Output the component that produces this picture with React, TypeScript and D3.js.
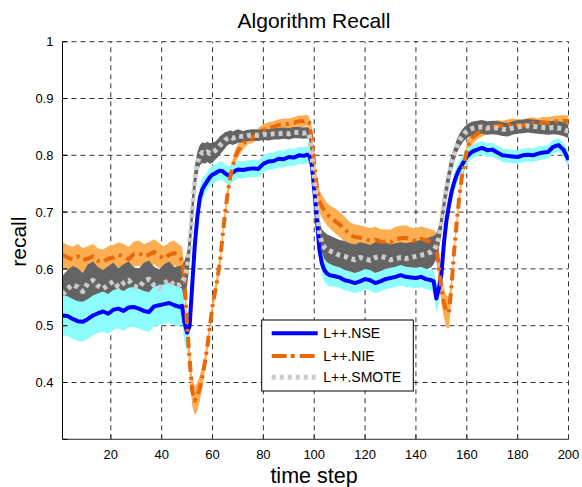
import React from "react";
import * as d3 from "d3";

const W = 582;
const H = 487;

const steps = [
  1, 3, 5, 7, 9, 11, 13, 15, 17, 19, 21, 23, 25, 27, 29, 31, 33, 35, 37, 39, 41, 43, 45, 47,
  48, 49, 50, 51, 52, 53, 54, 55, 56, 57, 58, 59, 60, 61, 62, 63, 64, 65, 66, 67, 68, 69, 70,
  72, 74, 76, 78, 80, 82, 84, 86, 88, 90, 92, 94, 96,
  97, 98, 99, 100, 101, 102, 103, 104, 105, 106,
  108, 110, 112, 114, 116, 118, 120, 122, 124, 126, 128, 130, 132, 134, 136, 138, 140, 142, 144, 146,
  147, 148, 149, 150, 151, 152, 153, 154, 155, 156, 157, 158, 159, 160, 161, 162,
  164, 166, 168, 170, 172, 174, 176, 178, 180, 182, 184, 186, 188, 190, 192, 194, 196, 198, 200,
];

const nseMean = [
  0.518, 0.517, 0.512, 0.508, 0.507, 0.512, 0.518, 0.522, 0.525, 0.521, 0.528, 0.530, 0.526, 0.532, 0.533, 0.530, 0.526, 0.524, 0.534, 0.536, 0.538, 0.540, 0.536, 0.533,
  0.535, 0.505, 0.488, 0.500, 0.570, 0.640, 0.690, 0.725, 0.740, 0.748, 0.755, 0.762, 0.766, 0.768, 0.771, 0.773, 0.772, 0.768, 0.765, 0.766, 0.770, 0.773, 0.775,
  0.774, 0.776, 0.777, 0.776, 0.785, 0.789, 0.790, 0.794, 0.793, 0.797, 0.796, 0.800, 0.799,
  0.801, 0.800, 0.785, 0.740, 0.690, 0.635, 0.610, 0.598, 0.592, 0.589,
  0.587, 0.585, 0.580, 0.578, 0.575, 0.578, 0.582, 0.580, 0.575, 0.578, 0.582, 0.584, 0.586, 0.589, 0.586, 0.585, 0.584, 0.586, 0.582, 0.580,
  0.578, 0.548, 0.565, 0.590, 0.645, 0.685, 0.712, 0.735, 0.752, 0.765, 0.775, 0.782, 0.790, 0.797, 0.802, 0.806,
  0.810, 0.813, 0.809, 0.810, 0.805, 0.800, 0.799, 0.798, 0.797, 0.800, 0.801, 0.800, 0.803, 0.805, 0.806, 0.815, 0.818, 0.810, 0.792,
];

const nseBand = [
  0.035, 0.035, 0.035, 0.035, 0.035, 0.035, 0.035, 0.035, 0.035, 0.035, 0.035, 0.035, 0.035, 0.035, 0.035, 0.035, 0.035, 0.035, 0.035, 0.035, 0.035, 0.035, 0.035, 0.035,
  0.030, 0.035, 0.035, 0.030, 0.020, 0.020, 0.020, 0.020, 0.020, 0.016, 0.016, 0.016, 0.016, 0.016, 0.016, 0.016, 0.016, 0.016, 0.016, 0.016, 0.016, 0.016, 0.016,
  0.015, 0.015, 0.015, 0.015, 0.015, 0.015, 0.015, 0.015, 0.015, 0.015, 0.015, 0.015, 0.015,
  0.015, 0.015, 0.020, 0.020, 0.020, 0.020, 0.020, 0.020, 0.020, 0.020,
  0.018, 0.018, 0.018, 0.018, 0.018, 0.018, 0.018, 0.018, 0.018, 0.018, 0.018, 0.018, 0.018, 0.018, 0.018, 0.018, 0.018, 0.018, 0.018, 0.018,
  0.020, 0.025, 0.025, 0.025, 0.015, 0.015, 0.015, 0.015, 0.015, 0.015, 0.015, 0.015, 0.015, 0.015, 0.012, 0.012,
  0.012, 0.012, 0.012, 0.012, 0.012, 0.012, 0.012, 0.012, 0.012, 0.012, 0.012, 0.012, 0.012, 0.012, 0.012, 0.012, 0.012, 0.012, 0.015,
];

const nieMean = [
  0.625, 0.620, 0.617, 0.622, 0.615, 0.618, 0.622, 0.614, 0.612, 0.618, 0.620, 0.625, 0.622, 0.617, 0.626, 0.628, 0.622, 0.625, 0.630, 0.623, 0.618, 0.625, 0.628, 0.620,
  0.615, 0.580, 0.500, 0.440, 0.385, 0.368, 0.375, 0.390, 0.410, 0.435, 0.465, 0.500, 0.535, 0.560, 0.585, 0.615, 0.660, 0.700, 0.735, 0.762, 0.782, 0.798, 0.808,
  0.820, 0.830, 0.832, 0.838, 0.845, 0.848, 0.850, 0.853, 0.855, 0.855, 0.857, 0.860, 0.860,
  0.862, 0.858, 0.830, 0.785, 0.745, 0.720, 0.710, 0.703, 0.697, 0.692,
  0.685, 0.678, 0.670, 0.660, 0.656, 0.655, 0.652, 0.650, 0.652, 0.648, 0.648, 0.647, 0.652, 0.654, 0.655, 0.651, 0.649, 0.653, 0.650, 0.648,
  0.646, 0.640, 0.605, 0.565, 0.540, 0.525, 0.523, 0.570, 0.630, 0.680, 0.725, 0.760, 0.785, 0.808, 0.822, 0.830,
  0.838, 0.843, 0.847, 0.850, 0.852, 0.851, 0.853, 0.855, 0.854, 0.852, 0.856, 0.857, 0.855, 0.858, 0.857, 0.859, 0.860, 0.861, 0.860,
];

const nieBand = [
  0.022, 0.022, 0.022, 0.022, 0.022, 0.022, 0.022, 0.022, 0.022, 0.022, 0.022, 0.022, 0.022, 0.022, 0.022, 0.022, 0.022, 0.022, 0.022, 0.022, 0.022, 0.022, 0.022, 0.022,
  0.025, 0.025, 0.025, 0.025, 0.025, 0.025, 0.025, 0.022, 0.020, 0.014, 0.012, 0.012, 0.012, 0.012, 0.012, 0.012, 0.012, 0.012, 0.012, 0.012, 0.012, 0.012, 0.012,
  0.010, 0.010, 0.010, 0.010, 0.010, 0.010, 0.010, 0.010, 0.010, 0.010, 0.010, 0.010, 0.010,
  0.010, 0.010, 0.020, 0.020, 0.020, 0.020, 0.020, 0.020, 0.020, 0.020,
  0.022, 0.022, 0.022, 0.022, 0.022, 0.022, 0.022, 0.022, 0.022, 0.022, 0.022, 0.022, 0.022, 0.022, 0.022, 0.022, 0.022, 0.022, 0.022, 0.022,
  0.022, 0.025, 0.025, 0.025, 0.025, 0.028, 0.028, 0.015, 0.012, 0.012, 0.012, 0.012, 0.012, 0.012, 0.012, 0.012,
  0.010, 0.010, 0.010, 0.010, 0.010, 0.010, 0.010, 0.010, 0.010, 0.010, 0.010, 0.010, 0.010, 0.010, 0.010, 0.010, 0.010, 0.010, 0.010,
];

const smoteMean = [
  0.555, 0.565, 0.572, 0.568, 0.560, 0.575, 0.580, 0.570, 0.565, 0.572, 0.578, 0.568, 0.575, 0.580, 0.570, 0.567, 0.578, 0.582, 0.571, 0.566, 0.575, 0.580, 0.570, 0.572,
  0.575, 0.585, 0.600, 0.640, 0.700, 0.755, 0.785, 0.800, 0.805, 0.803, 0.806, 0.803, 0.805, 0.808, 0.812, 0.818, 0.822, 0.827, 0.830, 0.832, 0.830, 0.832, 0.834,
  0.833, 0.835, 0.836, 0.835, 0.837, 0.836, 0.838, 0.838, 0.839, 0.838, 0.840, 0.840, 0.839,
  0.840, 0.838, 0.800, 0.760, 0.710, 0.665, 0.645, 0.638, 0.634, 0.632,
  0.628, 0.624, 0.622, 0.618, 0.616, 0.620, 0.618, 0.615, 0.620, 0.622, 0.620, 0.616, 0.618, 0.620, 0.618, 0.620, 0.622, 0.624, 0.626, 0.630,
  0.633, 0.640, 0.655, 0.680, 0.715, 0.740, 0.765, 0.786, 0.800, 0.815, 0.825, 0.832, 0.838, 0.842, 0.845, 0.847,
  0.849, 0.850, 0.848, 0.849, 0.848, 0.846, 0.845, 0.848, 0.850, 0.851, 0.852, 0.851, 0.850, 0.849, 0.848, 0.849, 0.848, 0.846, 0.842,
];

const smoteBand = [
  0.033, 0.033, 0.033, 0.033, 0.033, 0.033, 0.033, 0.033, 0.033, 0.033, 0.033, 0.033, 0.033, 0.033, 0.033, 0.033, 0.033, 0.033, 0.033, 0.033, 0.033, 0.033, 0.033, 0.033,
  0.030, 0.030, 0.030, 0.030, 0.030, 0.025, 0.020, 0.018, 0.018, 0.018, 0.018, 0.018, 0.018, 0.016, 0.016, 0.016, 0.015, 0.014, 0.012, 0.012, 0.012, 0.012, 0.012,
  0.010, 0.010, 0.010, 0.010, 0.010, 0.010, 0.010, 0.010, 0.010, 0.010, 0.010, 0.010, 0.010,
  0.010, 0.010, 0.020, 0.020, 0.020, 0.022, 0.025, 0.027, 0.027, 0.027,
  0.027, 0.027, 0.027, 0.027, 0.027, 0.027, 0.027, 0.027, 0.027, 0.027, 0.027, 0.027, 0.027, 0.027, 0.027, 0.027, 0.027, 0.027, 0.027, 0.027,
  0.025, 0.022, 0.020, 0.020, 0.020, 0.020, 0.018, 0.015, 0.013, 0.012, 0.012, 0.012, 0.012, 0.012, 0.012, 0.012,
  0.012, 0.012, 0.012, 0.012, 0.012, 0.012, 0.012, 0.012, 0.012, 0.012, 0.012, 0.012, 0.012, 0.012, 0.012, 0.012, 0.012, 0.012, 0.012,
];

const xTicks = [20, 40, 60, 80, 100, 120, 140, 160, 180, 200];
const yTicks = [0.4, 0.5, 0.6, 0.7, 0.8, 0.9, 1];
const legendLabels = ["L++.NSE", "L++.NIE", "L++.SMOTE"];

const FONT = "'Liberation Sans', Arial, Helvetica, sans-serif";

const left = 62.5;
const right = 568.5;
const top = 41.7;
const bottom = 439.3;

export default function App() {
  const x = d3.scaleLinear().domain([1, 200]).range([left, right]);
  const y = d3.scaleLinear().domain([0.3, 1]).range([bottom, top]);

  const mk = (mean: number[], band: number[]) =>
    steps.map((s, i) => ({ s, m: mean[i], lo: mean[i] - band[i], hi: mean[i] + band[i] }));

  const series = [
    { key: "nse", data: mk(nseMean, nseBand), line: "#0000ff", fill: "#8cfcfc", width: 4, dash: undefined, cap: "butt" },
    { key: "nie", data: mk(nieMean, nieBand), line: "#e8680a", fill: "#fdae52", width: 4, dash: "11,5,3,5", cap: "butt" },
    { key: "smote", data: mk(smoteMean, smoteBand), line: "#cccccc", fill: "#646464", width: 5, dash: "4,4", cap: "butt" },
  ];

  const area = d3
    .area<{ s: number; lo: number; hi: number }>()
    .x((d) => x(d.s))
    .y0((d) => y(d.lo))
    .y1((d) => y(d.hi));
  const line = d3
    .line<{ s: number; m: number }>()
    .x((d) => x(d.s))
    .y((d) => y(d.m));

  const bandOrder = [series[1], series[2], series[0]];

  const legX = 261.7;
  const legY = 320;
  const legW = 151.6;
  const legH = 71;
  const entryY = [333.3, 356, 377.3];

  return (
    <svg width={W} height={H} style={{ position: "absolute", left: 0, top: 0, background: "#fff" }}>
      <rect x={0} y={0} width={W} height={H} fill="#fff" />
      <defs>
        <clipPath id="plot">
          <rect x={left} y={top} width={right - left} height={bottom - top} />
        </clipPath>
      </defs>

      {/* grid */}
      <g stroke="#333" strokeWidth={1} strokeDasharray="5,4">
        {xTicks.map((t) => (
          <line key={"gx" + t} x1={x(t)} x2={x(t)} y1={bottom} y2={top} />
        ))}
        {yTicks.map((t) => (
          <line key={"gy" + t} x1={left} x2={right} y1={y(t)} y2={y(t)} />
        ))}
      </g>

      <g clipPath="url(#plot)">
        {bandOrder.map((s) => (
          <path key={"a" + s.key} d={area(s.data) || ""} fill={s.fill} stroke="none" />
        ))}
        {series.map((s) => (
          <path
            key={"l" + s.key}
            d={line(s.data) || ""}
            fill="none"
            stroke={s.line}
            strokeWidth={s.width}
            strokeDasharray={s.dash}
            strokeLinejoin="round"
          />
        ))}
      </g>

      {/* axes */}
      <line x1={left} x2={left} y1={top} y2={bottom} stroke="#000" strokeWidth={1} />
      <line x1={left} x2={right} y1={bottom} y2={bottom} stroke="#555" strokeWidth={1.2} />
      {xTicks.map((t) => (
        <line key={"tx" + t} x1={x(t)} x2={x(t)} y1={bottom} y2={bottom - 5} stroke="#333" />
      ))}
      {[0.3, ...yTicks].map((t) => (
        <line key={"ty" + t} x1={left} x2={left + 5} y1={y(t)} y2={y(t)} stroke="#000" />
      ))}

      <g fontFamily={FONT} fontSize={13} fill="#000">
        {xTicks.map((t) => (
          <text key={"lx" + t} x={x(t)} y={459} textAnchor="middle">
            {t}
          </text>
        ))}
        {yTicks.map((t) => (
          <text key={"ly" + t} x={53.5} y={y(t) + 4.6} textAnchor="end">
            {t === 1 ? "1" : t.toFixed(1)}
          </text>
        ))}
      </g>

      <text x={314} y={28.3} textAnchor="middle" fontFamily={FONT} fontSize={21} fill="#000">
        Algorithm Recall
      </text>
      <text x={314} y={482.7} textAnchor="middle" fontFamily={FONT} fontSize={21.5} fill="#000">
        time step
      </text>
      <text
        transform={`translate(25.5,241.7) rotate(-90)`}
        textAnchor="middle"
        fontFamily={FONT}
        fontSize={21}
        fill="#000"
      >
        recall
      </text>

      {/* legend */}
      <rect x={legX} y={legY} width={legW} height={legH} fill="#fff" stroke="#000" strokeWidth={1} />
      {series.map((s, i) => (
        <g key={"leg" + s.key}>
          <line
            x1={271.7}
            x2={317.7}
            y1={entryY[i]}
            y2={entryY[i]}
            stroke={s.line}
            strokeWidth={s.width}
            strokeDasharray={s.key === "nie" ? "15,4,4,5" : s.dash}
          />
          <text x={323.3} y={entryY[i] + 5} fontFamily={FONT} fontSize={14} fill="#000">
            {legendLabels[i]}
          </text>
        </g>
      ))}
    </svg>
  );
}
